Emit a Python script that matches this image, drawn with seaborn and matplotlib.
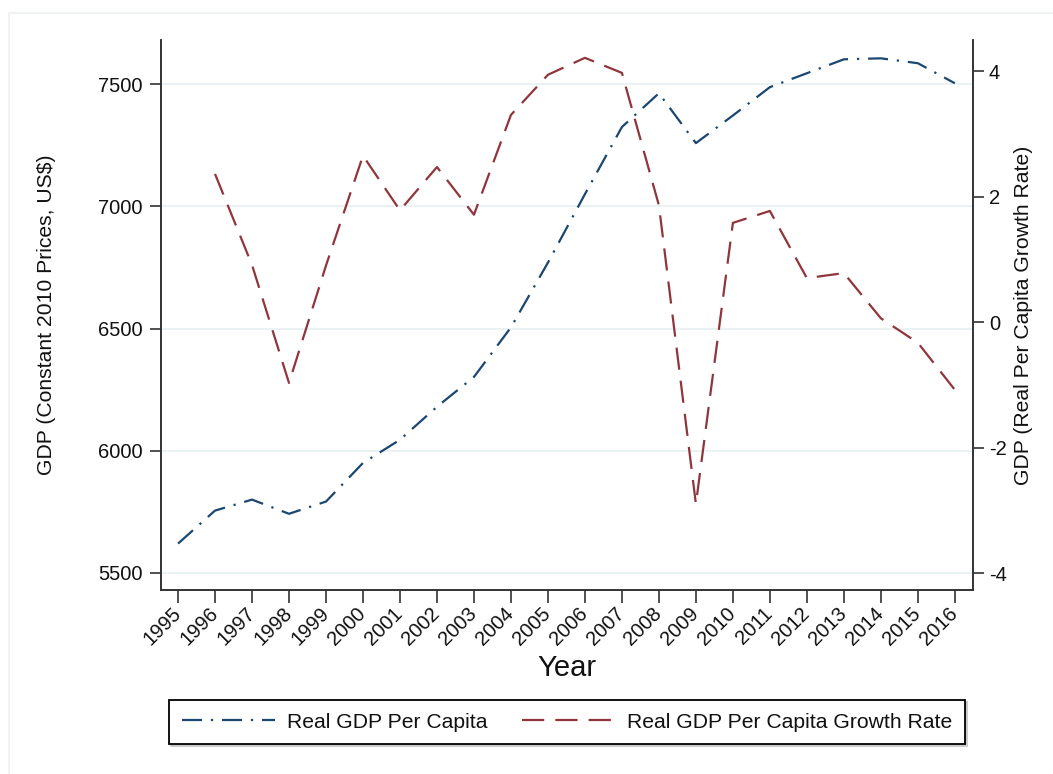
import numpy as np
import pandas as pd
import matplotlib
matplotlib.use("Agg")
import matplotlib.pyplot as plt
import seaborn as sns
from matplotlib.patches import Rectangle

years = list(range(1995, 2017))
gdp_pc = [5620, 5755, 5800, 5742, 5792, 5950, 6045, 6180, 6302, 6505,
          6770, 7050, 7325, 7463, 7259, 7372, 7488, 7545, 7602, 7606,
          7586, 7504]
growth = [np.nan, 2.36, 0.91, -0.97, 0.9, 2.65, 1.78, 2.47, 1.71, 3.30,
          3.94, 4.21, 3.97, 1.86, -2.90, 1.58, 1.77, 0.70, 0.78, 0.06,
          -0.33, -1.08]

df = pd.DataFrame({"Year": years, "gdp": gdp_pc, "growth": growth})

blue = "#1a476f"
red = "#90353b"

sns.set_theme(style="white")
plt.rcParams["font.family"] = ["Liberation Sans", "DejaVu Sans"]
plt.rcParams["axes.unicode_minus"] = False
plt.rcParams["text.color"] = "#111111"
plt.rcParams["axes.labelcolor"] = "#111111"
plt.rcParams["xtick.color"] = "#111111"
plt.rcParams["ytick.color"] = "#111111"

fig = plt.figure(figsize=(10.53, 7.74), dpi=100)
ax = fig.add_axes([0.1529, 0.2377, 0.924 - 0.1529, 0.948 - 0.2377])

# faint outer frame like the Stata graph region
fig.patches.append(Rectangle((9 / 1053, -0.01), 1.05, 1 - 13 / 774 + 0.01,
                             transform=fig.transFigure, fill=False,
                             edgecolor="#eef1f1", linewidth=1.2))

sns.lineplot(data=df, x="Year", y="gdp", ax=ax, color=blue, linewidth=1.6,
             label="Real GDP Per Capita", legend=False)
ax.lines[-1].set_dashes([9, 4, 1, 4])

ax2 = ax.twinx()
sns.lineplot(data=df.dropna(), x="Year", y="growth", ax=ax2, color=red,
             linewidth=1.6, label="Real GDP Per Capita Growth Rate", legend=False)
ax2.lines[-1].set_dashes([10, 5])

ax.set_xlim(1994.54, 2016.49)
ax.set_ylim(5430, 7680)
ax2.set_ylim(-4.27, 4.49)

ax.set_yticks([5500, 6000, 6500, 7000, 7500])
ax2.set_yticks([-4, -2, 0, 2, 4])
ax.set_xticks(years)
ax.set_xticklabels([str(y) for y in years], rotation=45, ha="right",
                   va="center", rotation_mode="anchor", fontsize=14.5)

for a in (ax, ax2):
    a.grid(False)
    a.spines["top"].set_visible(False)
    for s in a.spines.values():
        s.set_color("#333333")
        s.set_linewidth(1.2)
ax.yaxis.grid(True, color="#e8f0f1", linewidth=1.2)
ax.set_axisbelow(True)

ax.tick_params(axis="y", direction="out", length=8, width=1.2, color="#333333",
               labelsize=14.5, pad=5, left=True)
ax.tick_params(axis="x", direction="out", length=9, width=1.2, color="#333333",
               pad=6, bottom=True)
ax2.tick_params(axis="y", direction="out", length=8, width=1.2, color="#333333",
                labelsize=14.5, pad=3.5, right=True)

ax.set_xlabel("Year", fontsize=21)
ax.xaxis.set_label_coords(0.5, (590 - 668) / 550, transform=ax.transAxes)
ax.xaxis.label.set_va("center")
ax.set_ylabel("GDP (Constant 2010 Prices, US$)", fontsize=15.2)
ax.yaxis.set_label_coords((56 - 161) / 812, 0.5)
ax2.set_ylabel("GDP (Real Per Capita Growth Rate)", fontsize=15.2)
ax2.yaxis.set_label_coords((1014 - 161) / 812, 0.5)

handles = [ax.lines[0], ax2.lines[0]]
leg = fig.legend(handles, [h.get_label() for h in handles], ncol=2,
                 loc="center", bbox_to_anchor=(567 / 1053, 1 - 722 / 774),
                 fontsize=15.2, frameon=True, fancybox=False,
                 shadow={"ox": 1.5, "oy": -1.5, "color": "#c8c8c8", "alpha": 1},
                 handlelength=4.4, handletextpad=0.6, columnspacing=1.6,
                 borderpad=0.6, borderaxespad=0, edgecolor="black")
leg.get_frame().set_linewidth(1.3)

fig.savefig("out.png", dpi=100)
